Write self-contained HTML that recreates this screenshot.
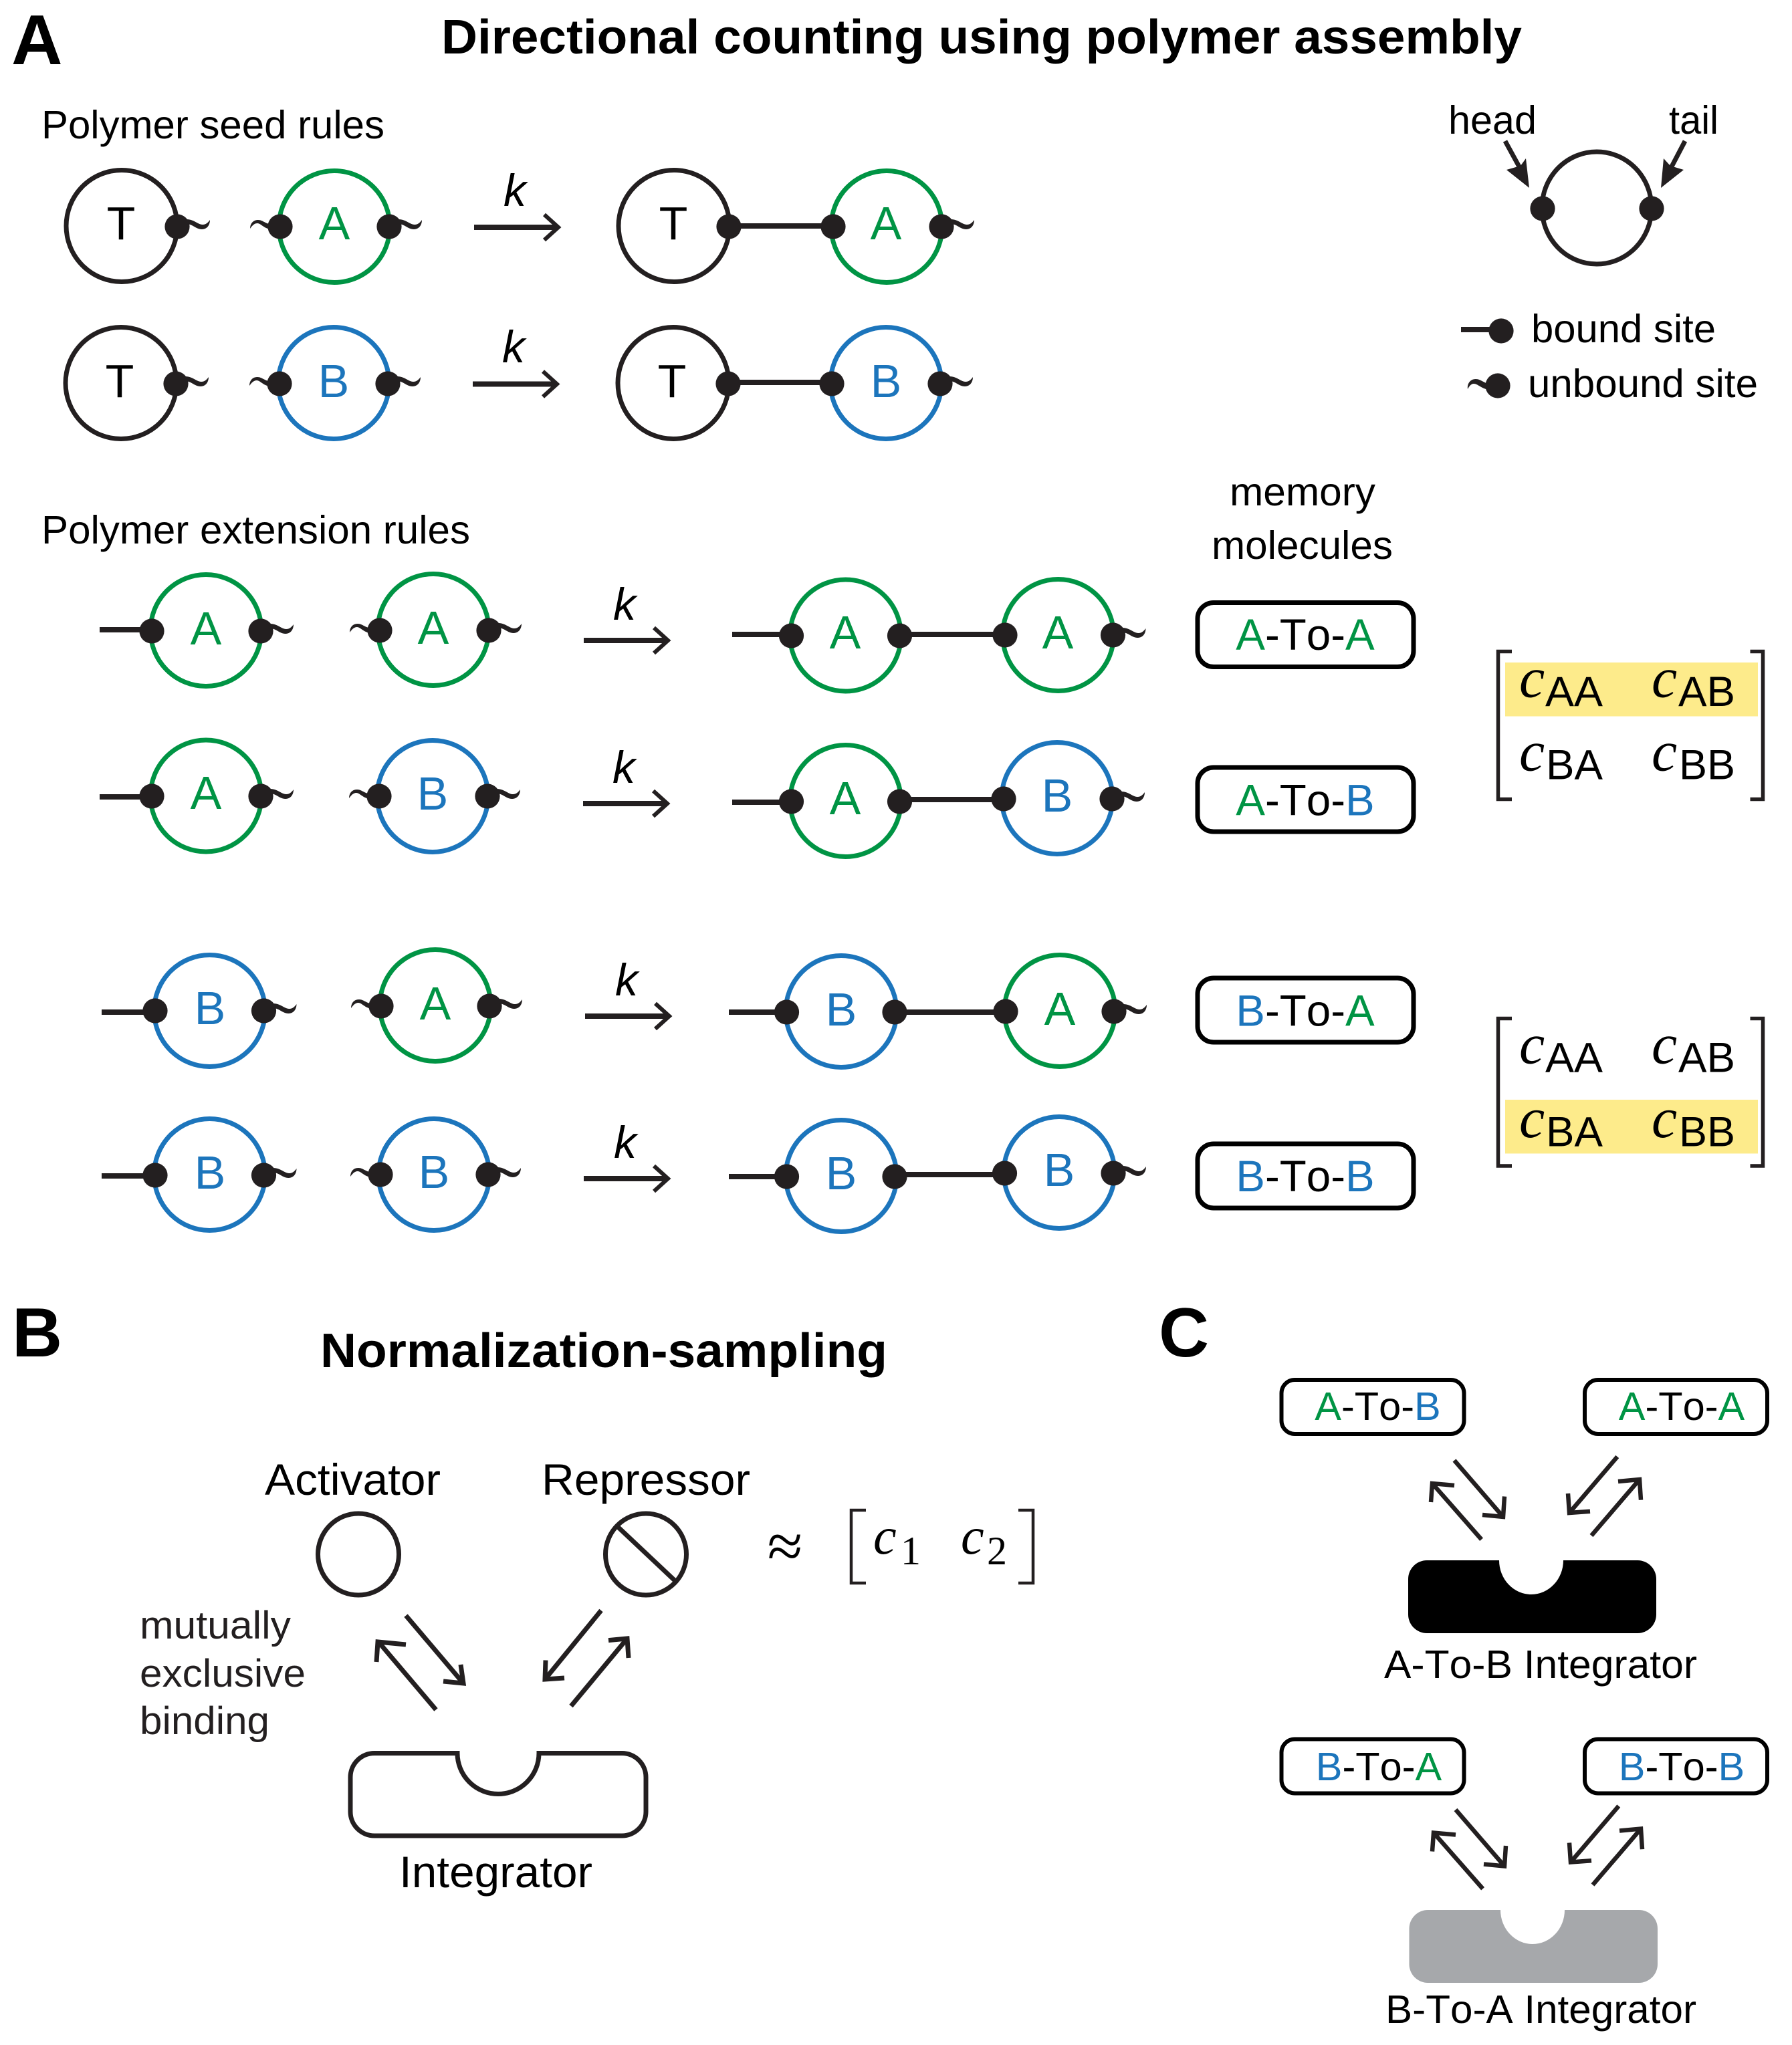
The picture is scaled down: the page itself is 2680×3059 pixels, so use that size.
<!DOCTYPE html>
<html><head><meta charset="utf-8"><style>
html,body{margin:0;padding:0;background:#fff}
svg{display:block}
text{font-family:"Liberation Sans",sans-serif;fill:#000;font-kerning:none}
.t{font-size:59px}
.l{font-size:70px;text-anchor:middle}
.k{font-size:68px;font-style:italic}
.g{fill:#009444}.b{fill:#1c75bc}
.m{font-size:65.5px;text-anchor:middle}
.n{font-size:59.5px;text-anchor:middle}
.c{font-family:"Liberation Serif",serif;font-style:italic;font-size:86px}
.s{font-size:63px}
.h{font-weight:bold}
.ln{stroke:#231f20;stroke-width:8;fill:none}
.w{stroke:#231f20;stroke-width:7;fill:none}
.bx{stroke:#000;stroke-width:7;fill:#fff}
.bx2{stroke:#000;stroke-width:6;fill:#fff}
.ar{stroke:#231f20;stroke-width:7;fill:none}
.ac{stroke:#231f20;stroke-width:6.5;fill:none}
</style></head><body>
<svg xmlns="http://www.w3.org/2000/svg" width="2680" height="3059" viewBox="0 0 2680 3059">
<defs>
<ellipse id="ek" rx="83" ry="83.5" fill="none" stroke="#231f20" stroke-width="7"/>
<ellipse id="eg" rx="83" ry="83.5" fill="none" stroke="#009444" stroke-width="7"/>
<ellipse id="eb" rx="83" ry="83.5" fill="none" stroke="#1c75bc" stroke-width="7"/>
<circle id="d" r="18.6" fill="#231f20"/>
<path id="sr" fill="#231f20" d="M14-11C25-11 31-3 38-3C43-3 46-6 49-10C49-3 45 4 37 4C28 4 23-4 14-4Z"/>
<path id="sl" fill="#231f20" d="M-14 4C-24 3-29-5-34-5C-39-5-42-1-45 3C-45-4-41-10-33-10C-26-10-22-4-14-4Z"/>
<g id="ka"><path d="M-131 0H-7" stroke="#231f20" stroke-width="8" fill="none"/><path d="M-26-19L-5 0L-26 19" stroke="#231f20" stroke-width="6" fill="none"/></g>
</defs>

<text x="17" y="96" class="h" font-size="106">A</text>
<text x="660" y="80" class="h" font-size="72" textLength="1616" lengthAdjust="spacingAndGlyphs">Directional counting using polymer assembly</text>
<text x="62" y="207" class="t" textLength="513" lengthAdjust="spacingAndGlyphs">Polymer seed rules</text>

<!-- seed row 1 -->
<use href="#ek" x="182" y="338"/><use href="#d" x="265" y="339"/><use href="#sr" x="265" y="339"/>
<text x="181" y="358" class="l">T</text>
<use href="#eg" x="500" y="339"/><use href="#d" x="419" y="339"/><use href="#sl" x="419" y="339"/><use href="#d" x="582" y="339"/><use href="#sr" x="582" y="339"/>
<text x="500" y="358" class="l g">A</text>
<text x="753" y="308" class="k">k</text><use href="#ka" x="840" y="340"/>
<use href="#ek" x="1008" y="338"/><use href="#eg" x="1326" y="339"/>
<path class="ln" d="M1090 338H1246"/><use href="#d" x="1090" y="339"/><use href="#d" x="1246" y="339"/>
<text x="1007" y="358" class="l">T</text>
<use href="#d" x="1408" y="339"/><use href="#sr" x="1408" y="339"/>
<text x="1325" y="358" class="l g">A</text>
<!-- seed row 2 -->
<use href="#ek" x="181" y="573"/><use href="#d" x="263" y="574"/><use href="#sr" x="263" y="574"/>
<text x="179" y="594" class="l">T</text>
<use href="#eb" x="499" y="573"/><use href="#d" x="418" y="574"/><use href="#sl" x="418" y="574"/><use href="#d" x="580" y="574"/><use href="#sr" x="580" y="574"/>
<text x="499" y="594" class="l b">B</text>
<text x="751" y="542" class="k">k</text><use href="#ka" x="838" y="574.5"/>
<use href="#ek" x="1007" y="573"/><use href="#eb" x="1325" y="573"/>
<path class="ln" d="M1089 572H1244"/><use href="#d" x="1089" y="574"/><use href="#d" x="1244" y="574"/>
<text x="1005" y="594" class="l">T</text>
<use href="#d" x="1406" y="574"/><use href="#sr" x="1406" y="574"/>
<text x="1325" y="594" class="l b">B</text>

<!-- key -->
<text x="2166" y="200" class="t" textLength="132" lengthAdjust="spacingAndGlyphs">head</text>
<text x="2496" y="200" class="t" textLength="74" lengthAdjust="spacingAndGlyphs">tail</text>
<ellipse class="w" cx="2388" cy="311" rx="82" ry="84"/>
<use href="#d" x="2307" y="312"/><use href="#d" x="2470" y="312"/>
<path class="w" d="M2251 211L2274 253M2520 211L2498 253"/>
<polygon fill="#231f20" points="2287,281 2253,254 2274,248 2282,237"/>
<polygon fill="#231f20" points="2484,281 2518,254 2498,248 2488,237"/>
<path class="ln" d="M2185 493H2245"/><use href="#d" x="2245" y="495"/>
<text x="2290" y="512" class="t" textLength="276" lengthAdjust="spacingAndGlyphs">bound site</text>
<use href="#d" x="2240" y="577"/><path fill="#231f20" d="M2226 583C2215 581 2210 574 2204 574C2200 574 2197 578 2195 582C2194 575 2198 567 2207 567C2215 567 2220 574 2228 574Z"/>
<text x="2285" y="594" class="t" textLength="344" lengthAdjust="spacingAndGlyphs">unbound site</text>

<text x="62" y="813" class="t" textLength="641" lengthAdjust="spacingAndGlyphs">Polymer extension rules</text>
<text x="1839" y="756" class="t" textLength="218" lengthAdjust="spacingAndGlyphs">memory</text>
<text x="1812" y="836" class="t" textLength="271" lengthAdjust="spacingAndGlyphs">molecules</text>

<!-- ext row 1 -->
<use href="#eg" x="308" y="943"/><path class="ln" d="M149 942H227"/><use href="#d" x="227" y="944"/><use href="#d" x="390" y="944"/><use href="#sr" x="390" y="944"/>
<text x="308" y="964" class="l g">A</text>
<use href="#eg" x="648" y="942"/><use href="#d" x="568" y="943"/><use href="#sl" x="568" y="943"/><use href="#d" x="731" y="943"/><use href="#sr" x="731" y="943"/>
<text x="648" y="963" class="l g">A</text>
<text x="917" y="927" class="k">k</text><use href="#ka" x="1004" y="958"/>
<use href="#eg" x="1264.5" y="950.5"/><use href="#eg" x="1582.5" y="950"/>
<path class="ln" d="M1095 949H1183M1345 949H1503"/><use href="#d" x="1183.5" y="951"/><use href="#d" x="1345.5" y="951"/>
<text x="1264" y="970" class="l g">A</text>
<use href="#d" x="1503" y="950"/><use href="#d" x="1664.5" y="950"/><use href="#sr" x="1664.5" y="950"/>
<text x="1582" y="970" class="l g">A</text>
<!-- ext row 2 -->
<use href="#eg" x="308" y="1190.5"/><path class="ln" d="M149 1192H227"/><use href="#d" x="227" y="1191"/><use href="#d" x="390" y="1191"/><use href="#sr" x="390" y="1191"/>
<text x="308" y="1210" class="l g">A</text>
<use href="#eb" x="647" y="1191"/><use href="#d" x="567" y="1191"/><use href="#sl" x="567" y="1191"/><use href="#d" x="729" y="1191"/><use href="#sr" x="729" y="1191"/>
<text x="647" y="1211" class="l b">B</text>
<text x="916" y="1171" class="k">k</text><use href="#ka" x="1003" y="1202"/>
<use href="#eg" x="1264.5" y="1198"/><use href="#eb" x="1581" y="1194"/>
<path class="ln" d="M1095 1200H1183"/><path class="ln" d="M1345 1196H1501"/><use href="#d" x="1183.5" y="1199"/><use href="#d" x="1345.5" y="1199"/>
<text x="1264" y="1218" class="l g">A</text>
<use href="#d" x="1501" y="1195"/><use href="#d" x="1663" y="1195"/><use href="#sr" x="1663" y="1195"/>
<text x="1581" y="1214" class="l b">B</text>
<!-- ext row 3 -->
<use href="#eb" x="313.5" y="1512"/><path class="ln" d="M152 1514H232"/><use href="#d" x="232" y="1512"/><use href="#d" x="394.5" y="1512"/><use href="#sr" x="394.5" y="1512"/>
<text x="314" y="1532" class="l b">B</text>
<use href="#eg" x="651" y="1504"/><use href="#d" x="570" y="1505"/><use href="#sl" x="570" y="1505"/><use href="#d" x="732" y="1505"/><use href="#sr" x="732" y="1505"/>
<text x="651" y="1525" class="l g">A</text>
<text x="920" y="1489" class="k">k</text><use href="#ka" x="1006" y="1520"/>
<use href="#eb" x="1258" y="1513"/><use href="#eg" x="1585" y="1512"/>
<path class="ln" d="M1090 1514H1176M1338 1514H1504"/><use href="#d" x="1176.5" y="1514"/><use href="#d" x="1338" y="1514"/>
<text x="1258" y="1534" class="l b">B</text>
<use href="#d" x="1504" y="1513"/><use href="#d" x="1666" y="1513"/><use href="#sr" x="1666" y="1513"/>
<text x="1585" y="1533" class="l g">A</text>
<!-- ext row 4 -->
<use href="#eb" x="313.5" y="1757"/><path class="ln" d="M152 1759H232"/><use href="#d" x="232" y="1758"/><use href="#d" x="394.5" y="1758"/><use href="#sr" x="394.5" y="1758"/>
<text x="314" y="1778" class="l b">B</text>
<use href="#eb" x="649" y="1757"/><use href="#d" x="569" y="1757"/><use href="#sl" x="569" y="1757"/><use href="#d" x="730" y="1757"/><use href="#sr" x="730" y="1757"/>
<text x="649" y="1777" class="l b">B</text>
<text x="918" y="1732" class="k">k</text><use href="#ka" x="1004" y="1763"/>
<use href="#eb" x="1258" y="1759"/><use href="#eb" x="1584" y="1754"/>
<path class="ln" d="M1090 1760H1176M1338 1757H1502"/><use href="#d" x="1176.5" y="1760"/><use href="#d" x="1338" y="1760"/>
<text x="1258" y="1779" class="l b">B</text>
<use href="#d" x="1502.5" y="1755"/><use href="#d" x="1665" y="1755"/><use href="#sr" x="1665" y="1755"/>
<text x="1584" y="1774" class="l b">B</text>

<!-- memory molecule boxes -->
<rect class="bx" x="1791" y="901.5" width="323" height="96" rx="24"/>
<text x="1952" y="972" class="m"><tspan class="g">A</tspan>-To-<tspan class="g">A</tspan></text>
<rect class="bx" x="1791" y="1148" width="323" height="96" rx="24"/>
<text x="1952" y="1219.5" class="m"><tspan class="g">A</tspan>-To-<tspan class="b">B</tspan></text>
<rect class="bx" x="1791" y="1463" width="323" height="96" rx="24"/>
<text x="1952" y="1534.5" class="m"><tspan class="b">B</tspan>-To-<tspan class="g">A</tspan></text>
<rect class="bx" x="1791" y="1711" width="323" height="96" rx="24"/>
<text x="1952" y="1782" class="m"><tspan class="b">B</tspan>-To-<tspan class="b">B</tspan></text>

<!-- matrices -->
<rect x="2251" y="991" width="378" height="80.5" fill="#fdeb8b"/>
<path class="w" style="stroke-width:5.5" d="M2261 974.5H2240.5V1195.5H2261M2617.5 974.5H2636.5V1195.5H2617.5"/>
<text x="2272" y="1042.5" class="c">c</text><text x="2311" y="1056" class="s" textLength="86" lengthAdjust="spacingAndGlyphs">AA</text>
<text x="2470" y="1042.5" class="c">c</text><text x="2510" y="1056" class="s" textLength="85" lengthAdjust="spacingAndGlyphs">AB</text>
<text x="2272" y="1152.5" class="c">c</text><text x="2312" y="1165.5" class="s" textLength="85" lengthAdjust="spacingAndGlyphs">BA</text>
<text x="2470" y="1152.5" class="c">c</text><text x="2511" y="1165.5" class="s" textLength="84" lengthAdjust="spacingAndGlyphs">BB</text>

<rect x="2251" y="1645" width="378" height="80.5" fill="#fdeb8b"/>
<path class="w" style="stroke-width:5.5" d="M2261 1523.5H2240.5V1744H2261M2617.5 1523.5H2636.5V1744H2617.5"/>
<text x="2272" y="1590.5" class="c">c</text><text x="2311" y="1603.5" class="s" textLength="86" lengthAdjust="spacingAndGlyphs">AA</text>
<text x="2470" y="1590.5" class="c">c</text><text x="2510" y="1603.5" class="s" textLength="85" lengthAdjust="spacingAndGlyphs">AB</text>
<text x="2272" y="1701" class="c">c</text><text x="2312" y="1714.5" class="s" textLength="85" lengthAdjust="spacingAndGlyphs">BA</text>
<text x="2470" y="1701" class="c">c</text><text x="2511" y="1714.5" class="s" textLength="84" lengthAdjust="spacingAndGlyphs">BB</text>

<!-- Panel B -->
<text x="18" y="2029" class="h" font-size="104">B</text>
<text x="479" y="2045" class="h" font-size="72" textLength="848" lengthAdjust="spacingAndGlyphs">Normalization-sampling</text>
<text x="396" y="2236" style="font-size:66px" textLength="263" lengthAdjust="spacingAndGlyphs">Activator</text>
<text x="810" y="2236" style="font-size:66px" textLength="312" lengthAdjust="spacingAndGlyphs">Repressor</text>
<ellipse class="w" cx="536" cy="2325" rx="60.5" ry="61"/>
<ellipse class="w" cx="966" cy="2325" rx="60.5" ry="61"/>
<path class="w" d="M924 2284L1010 2365"/>
<text x="1174" y="2345" text-anchor="middle" style="font-family:'Liberation Serif',serif;font-size:96px">≈</text>
<path class="w" style="stroke-width:4.5" d="M1295 2259H1273V2368H1295M1523 2259H1545V2368H1523"/>
<text x="1306" y="2324" class="c" style="font-size:78px">c</text><text x="1347" y="2340" style="font-family:'Liberation Serif',serif;font-size:60px">1</text>
<text x="1437" y="2324" class="c" style="font-size:78px">c</text><text x="1476" y="2340" style="font-family:'Liberation Serif',serif;font-size:60px">2</text>
<text x="209" y="2451" style="fill:#231f20;font-size:58px" textLength="226" lengthAdjust="spacingAndGlyphs">mutually</text>
<text x="209" y="2523" style="fill:#231f20;font-size:58px" textLength="248" lengthAdjust="spacingAndGlyphs">exclusive</text>
<text x="209" y="2594" style="fill:#231f20;font-size:58px" textLength="194" lengthAdjust="spacingAndGlyphs">binding</text>
<path class="ar" d="M652 2557.5L566 2456M563 2486L565 2456L607 2460"/>
<path class="ar" d="M607 2416.6L693 2518M663 2515L693 2518L689 2490"/>
<path class="ar" d="M899 2409L815 2512M844 2510L815 2512L816 2483.5"/>
<path class="ar" d="M854 2552L938 2451M910 2453.6L938 2451L940 2480"/>
<path class="w" d="M684 2622.5A61 61 0 0 0 806 2622.5H930A36 36 0 0 1 966 2658.5V2710A36 36 0 0 1 930 2746H560A36 36 0 0 1 524 2710V2658.5A36 36 0 0 1 560 2622.5Z"/>
<text x="597" y="2823" style="font-size:66px" textLength="289" lengthAdjust="spacingAndGlyphs">Integrator</text>

<!-- Panel C -->
<text x="1733" y="2029" class="h" font-size="104">C</text>
<rect class="bx2" x="1916.5" y="2064" width="273" height="81" rx="20"/>
<text x="2060.5" y="2124" class="n"><tspan class="g">A</tspan>-To-<tspan class="b">B</tspan></text>
<rect class="bx2" x="2370" y="2064" width="273" height="81" rx="20"/>
<text x="2515" y="2124" class="n"><tspan class="g">A</tspan>-To-<tspan class="g">A</tspan></text>
<rect class="bx2" x="1916.5" y="2601.5" width="273" height="81" rx="20"/>
<text x="2062" y="2663" class="n"><tspan class="b">B</tspan>-To-<tspan class="g">A</tspan></text>
<rect class="bx2" x="2370" y="2601.5" width="273" height="81" rx="20"/>
<text x="2515" y="2663" class="n"><tspan class="b">B</tspan>-To-<tspan class="b">B</tspan></text>

<g>
<path class="ac" d="M2215.6 2302.8L2142 2219M2140 2247L2142 2219L2175 2222"/>
<path class="ac" d="M2175 2184.5L2248 2269M2217 2266L2248 2269L2250 2238.5"/>
<path class="ac" d="M2418.8 2179L2347 2263M2378 2260.7L2347 2263L2345 2234"/>
<path class="ac" d="M2380 2297L2452 2213M2420 2216L2452 2213L2454 2243.7"/>
</g>
<g transform="translate(2 522.5)">
<path class="ac" d="M2215.6 2302.8L2142 2219M2140 2247L2142 2219L2175 2222"/>
<path class="ac" d="M2175 2184.5L2248 2269M2217 2266L2248 2269L2250 2238.5"/>
<path class="ac" d="M2418.8 2179L2347 2263M2378 2260.7L2347 2263L2345 2234"/>
<path class="ac" d="M2380 2297L2452 2213M2420 2216L2452 2213L2454 2243.7"/>
</g>
<path fill="#000" d="M2242 2334A48 51 0 0 0 2338 2334H2449A28 28 0 0 1 2477 2362V2415A28 28 0 0 1 2449 2443H2134A28 28 0 0 1 2106 2415V2362A28 28 0 0 1 2134 2334Z"/>
<text x="2070" y="2510" style="font-size:59px" textLength="468" lengthAdjust="spacingAndGlyphs">A-To-B Integrator</text>
<path fill="#a6a8ab" d="M2244 2857A48 51 0 0 0 2340 2857H2451A28 28 0 0 1 2479 2885V2938A28 28 0 0 1 2451 2966H2135.5A28 28 0 0 1 2107.5 2938V2885A28 28 0 0 1 2135.5 2857Z"/>
<text x="2072" y="3026" style="font-size:59px" textLength="465" lengthAdjust="spacingAndGlyphs">B-To-A Integrator</text>
</svg>
</body></html>
